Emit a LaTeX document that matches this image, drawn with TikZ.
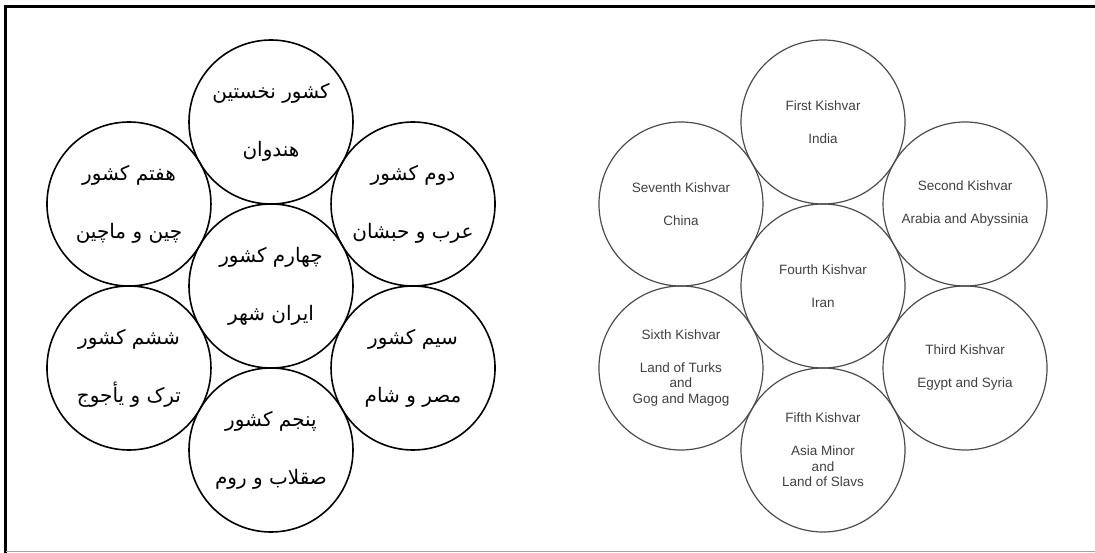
\documentclass[tikz,border=0pt]{standalone}
\usepackage{fontspec}
\usepackage{tikz}
\usetikzlibrary{positioning,calc}
\newfontfamily\ensans{Liberation Sans}
\newfontfamily\persian[Script=Arabic]{DejaVu Sans}
\TeXXeTstate=1
\newcommand{\rl}[1]{\beginR #1\endR}

\begin{document}
\begin{tikzpicture}[x=1pt,y=-1pt,
    kishvar/.style={circle, draw, minimum size=164pt, inner sep=0pt, align=center},
    fa/.style={kishvar, line width=1.6pt, font=\persian\fontsize{20}{30}\selectfont},
    en/.style={kishvar, line width=1.2pt, draw=black!70, text=black!75, font=\ensans\fontsize{13.5}{15.5}\selectfont}]
    \useasboundingbox (0,0) rectangle (1095,553);
    % frame
    \draw[line width=3pt] (5.5,553) -- (5.5,6.5) -- (1095,6.5);
    \draw[line width=1pt, black!35] (5.5,551.5) -- (1095,551.5);

    % Persian figure
    \coordinate (fa) at (271,286);
    \node[fa] (fa4) at (fa) {\rl{چهارم کشور}\\[28pt]\rl{ایران شهر}};
    \node[fa] (fa1) at ($(fa)+(-90:164)$) {\rl{کشور نخستین}\\[28pt]\rl{هندوان}};
    \node[fa] (fa2) at ($(fa)+(-30:164)$) {\rl{دوم کشور}\\[28pt]\rl{عرب و حبشان}};
    \node[fa] (fa3) at ($(fa)+(30:164)$) {\rl{سیم کشور}\\[28pt]\rl{مصر و شام}};
    \node[fa] (fa5) at ($(fa)+(90:164)$) {\rl{پنجم کشور}\\[28pt]\rl{صقلاب و روم}};
    \node[fa] (fa6) at ($(fa)+(150:164)$) {\rl{ششم کشور}\\[28pt]\rl{ترک و یأجوج}};
    \node[fa] (fa7) at ($(fa)+(210:164)$) {\rl{هفتم کشور}\\[28pt]\rl{چین و ماچین}};

    % English figure
    \coordinate (en) at (823,286);
    \node[en] (en4) at (en) {Fourth Kishvar\\[17.5pt]Iran};
    \node[en] (en1) at ($(en)+(-90:164)$) {First Kishvar\\[17.5pt]India};
    \node[en] (en2) at ($(en)+(-30:164)$) {Second Kishvar\\[17.5pt]Arabia and Abyssinia};
    \node[en] (en3) at ($(en)+(30:164)$) {Third Kishvar\\[17.5pt]Egypt and Syria};
    \node[en] (en5) at ($(en)+(90:164)$) {Fifth Kishvar\\[17.5pt]Asia Minor\\and\\Land of Slavs};
    \node[en] (en6) at ($(en)+(150:164)$) {Sixth Kishvar\\[17.5pt]Land of Turks\\and\\Gog and Magog};
    \node[en] (en7) at ($(en)+(210:164)$) {Seventh Kishvar\\[17.5pt]China};
\end{tikzpicture}
\end{document}
